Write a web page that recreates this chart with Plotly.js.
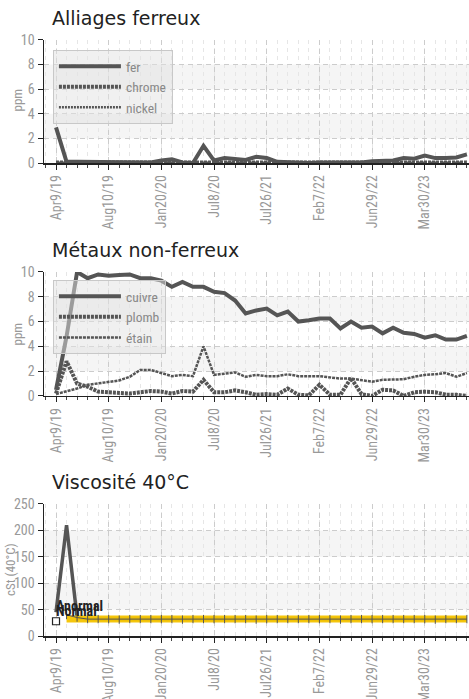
<!DOCTYPE html>
<html><head><meta charset="utf-8">
<script src="https://cdn.plot.ly/plotly-3.0.1.min.js"></script>
<style>html,body{margin:0;padding:0;background:#fff;}#chart{width:469px;height:699px;}</style>
</head><body><div id="chart"></div>
<script>
// ---- data ----
var sampleIndex = [0,1,2,3,4,5,6,7,8,9,10,11,12,13,14,15,16,17,18,19,20,21,22,23,24,25,26,27,28,29,30,31,32,33,34,35,36,37,38,39];
var tickPos = [0,5,10,15,20,25,30,35];
var tickLabels = ['Apr9/19','Aug10/19','Jan20/20','Jul8/20','Jul26/21','Feb7/22','Jun29/22','Mar30/23'];

var fer    = [2.9,0.1,0.1,0.1,0.1,0.05,0.05,0.05,0.05,0.05,0.2,0.3,0.05,0.0,1.4,0.2,0.4,0.3,0.25,0.5,0.4,0.1,0.05,0.0,0.0,0.05,0.05,0.0,0.0,0.05,0.15,0.2,0.2,0.4,0.35,0.6,0.4,0.4,0.45,0.7];
var chrome = [0.05,0.05,0.05,0.05,0.05,0.05,0.05,0.05,0.05,0.05,0.05,0.05,0.05,0.05,0.05,0.05,0.05,0.05,0.05,0.05,0.05,0.05,0.05,0.05,0.05,0.05,0.05,0.05,0.05,0.05,0.05,0.05,0.05,0.05,0.05,0.05,0.05,0.05,0.05,0.05];
var nickel = [0.02,0.02,0.02,0.02,0.02,0.02,0.02,0.02,0.02,0.02,0.02,0.02,0.02,0.02,0.02,0.02,0.02,0.02,0.02,0.02,0.02,0.02,0.02,0.02,0.02,0.02,0.02,0.02,0.02,0.02,0.02,0.02,0.02,0.02,0.02,0.02,0.02,0.02,0.02,0.02];

var cuivre = [0.5,4.8,10.0,9.5,9.8,9.7,9.75,9.8,9.5,9.5,9.3,8.8,9.2,8.8,8.8,8.4,8.3,7.7,6.65,6.9,7.05,6.5,6.8,6.0,6.1,6.25,6.25,5.45,6.0,5.5,5.6,5.05,5.5,5.1,5.0,4.7,4.9,4.55,4.55,4.85];
var plomb  = [0.2,2.8,1.0,0.75,0.35,0.3,0.3,0.2,0.3,0.4,0.35,0.2,0.4,0.35,1.3,0.3,0.3,0.45,0.3,0.1,0.15,0.1,0.6,0.1,0.05,0.9,0.1,0.1,1.45,0.15,0.0,0.5,0.45,0.0,0.3,0.35,0.3,0.1,0.1,0.0];
var etain  = [0.15,0.35,0.6,0.9,1.0,1.15,1.25,1.55,2.1,2.1,1.85,1.6,1.7,1.6,4.0,1.7,1.8,1.9,1.55,1.7,1.6,1.6,1.75,1.6,1.6,1.6,1.5,1.4,1.4,1.3,1.15,1.3,1.3,1.35,1.55,1.7,1.75,1.85,1.55,1.85];

var viscosite = [45,210,35,32,32,32,31,32,32,32,32,32,31,32,32,32,32,32,32,31,32,32,32,32,32,32,32,31,32,32,32,32,32,32,32,32,31,32,32,32];
var viscBand  = [32,32,32,32,32,32,32,32,32,32,32,32,32,32,32,32,32,32,32,32,32,32,32,32,32,32,32,32,32,32,32,32,32,32,32,32,32,32,32];
var refMarker = [28];

// ---- styles ----
var NARROW = '"Roboto Condensed","Liberation Sans Narrow","Arial Narrow","Liberation Sans",sans-serif';
var LC = '#555';
function xax(anchor){
  return {anchor:anchor, domain:[0,1], range:[-1.14,39.2], tickmode:'array', tickvals:tickPos, ticktext:tickLabels,
    tickangle:-90, tickfont:{family:NARROW,size:14,color:'#999'}, ticks:'outside', ticklen:5, tickcolor:'#222',
    showline:true, linecolor:'#222', linewidth:1.5, showgrid:true, gridcolor:'#ccc', griddash:'5px,4px', gridwidth:1,
    zeroline:false, layer:'below traces', fixedrange:true,
    minor:{tickmode:'linear', tick0:0, dtick:1, ticks:'outside', ticklen:3, tickcolor:'#444', showgrid:true, gridcolor:'#e6e6e6', griddash:'4px,4px', gridwidth:1}};
}
function yax(domain, range, dtick){
  return {domain:domain, range:range, dtick:dtick, tickfont:{family:NARROW,size:14,color:'#999'},
    ticks:'outside', ticklen:5, tickcolor:'#222', showline:true, linecolor:'#222', linewidth:1.5,
    showgrid:true, gridcolor:'#ccc', griddash:'5px,4px', zeroline:false, layer:'below traces', fixedrange:true};
}
function band(yref, y0, y1){
  return {type:'rect', xref:yref.replace('y','x')+' domain', yref:yref, x0:0, x1:1, y0:y0, y1:y1,
    fillcolor:'#f5f5f5', line:{width:0}, layer:'below'};
}

var traces = [
  {x:sampleIndex, y:fer, name:'fer', mode:'lines', line:{color:LC,width:4}, xaxis:'x', yaxis:'y', legend:'legend', cliponaxis:false},
  {x:sampleIndex, y:chrome, name:'chrome', mode:'lines', line:{color:LC,width:4,dash:'3px,1px'}, xaxis:'x', yaxis:'y', legend:'legend', cliponaxis:false},
  {x:sampleIndex, y:nickel, name:'nickel', mode:'lines', line:{color:LC,width:2.5,dash:'2px,1px'}, xaxis:'x', yaxis:'y', legend:'legend', cliponaxis:false},
  {x:sampleIndex, y:cuivre, name:'cuivre', mode:'lines', line:{color:LC,width:4}, xaxis:'x2', yaxis:'y2', legend:'legend2', cliponaxis:false},
  {x:sampleIndex, y:plomb, name:'plomb', mode:'lines', line:{color:LC,width:4,dash:'3px,1px'}, xaxis:'x2', yaxis:'y2', legend:'legend2', cliponaxis:false},
  {x:sampleIndex, y:etain, name:'étain', mode:'lines', line:{color:LC,width:2.5,dash:'3px,1px'}, xaxis:'x2', yaxis:'y2', legend:'legend2', cliponaxis:false},
  {x:sampleIndex, y:viscosite, name:'viscosité', mode:'lines', line:{color:LC,width:3.5}, xaxis:'x3', yaxis:'y3', showlegend:false},
  {x:sampleIndex.slice(1), y:viscBand, name:'bande', mode:'lines', line:{color:'#f5c400',width:7}, xaxis:'x3', yaxis:'y3', showlegend:false, opacity:0.95},
  {x:sampleIndex.slice(1), y:viscosite.slice(1).map(function(v){return Math.min(v,40);}), name:'mesure', mode:'lines+markers', line:{color:'#555',width:1},
    marker:{symbol:'line-ns-open',size:6,line:{color:'#444',width:1}}, xaxis:'x3', yaxis:'y3', showlegend:false},
  {x:sampleIndex.slice(0,1), y:refMarker, name:'ref', mode:'markers', marker:{symbol:'square',size:7,color:'#fff',line:{color:'#222',width:1.2}}, xaxis:'x3', yaxis:'y3', showlegend:false, cliponaxis:false}
];

function legendCfg(y){
  return {x:0.021, y:y, xanchor:'left', yanchor:'top', bgcolor:'rgba(225,225,225,0.5)', bordercolor:'#c8c8c8', borderwidth:1,
    font:{family:NARROW,size:13.5,color:'#888'}, itemwidth:62, tracegroupgap:0};
}
function title(txt, y){
  return {text:txt, xref:'paper', yref:'paper', x:0.014, y:y, xanchor:'left', yanchor:'middle', showarrow:false,
    font:{family:'"DejaVu Sans",sans-serif', size:19, color:'#222'}};
}
function ytitle(txt, x, y){
  return {text:txt, xref:'paper', yref:'paper', x:x, y:y, xanchor:'center', yanchor:'middle', textangle:-90, showarrow:false,
    font:{family:NARROW, size:13, color:'#999'}};
}

var layout = {
  width:469, height:699, margin:{l:44,r:0,t:0,b:0}, paper_bgcolor:'#fff', plot_bgcolor:'#fff',
  xaxis:xax('y'), xaxis2:xax('y2'), xaxis3:xax('y3'),
  yaxis:yax([0.7668,0.9428],[0,10],2), yaxis2:yax([0.4335,0.6109],[0,10],2), yaxis3:yax([0.0901,0.2790],[0,250],50),
  legend:legendCfg(0.9285), legend2:legendCfg(0.5994),
  shapes:[band('y',2,4),band('y',6,8),band('y2',2,4),band('y2',6,8),band('y3',50,100),band('y3',150,200)],
  annotations:[
    title('Alliages ferreux', 1-18/699), title('Métaux non-ferreux', 1-250/699), title('Viscosité 40°C', 1-482/699),
    ytitle('ppm', (16.5-44)/425, 1-100/699), ytitle('ppm', (16.5-44)/425, 1-334/699), ytitle('cSt (40°C)', (10-44)/425, 1-570/699),
    {text:'<b>Anormal</b>', xref:'x3', yref:'y3', x:0, y:56, xanchor:'left', yanchor:'middle', xshift:-2, showarrow:false, font:{family:NARROW,size:14,color:'#222'}},
    {text:'<b>Normal</b>', xref:'x3', yref:'y3', x:0, y:47, xanchor:'left', yanchor:'middle', xshift:-2, showarrow:false, font:{family:NARROW,size:14,color:'#222'}}
  ],
  showlegend:true
};
Plotly.newPlot('chart', traces, layout, {staticPlot:true, displayModeBar:false});
</script></body></html>
